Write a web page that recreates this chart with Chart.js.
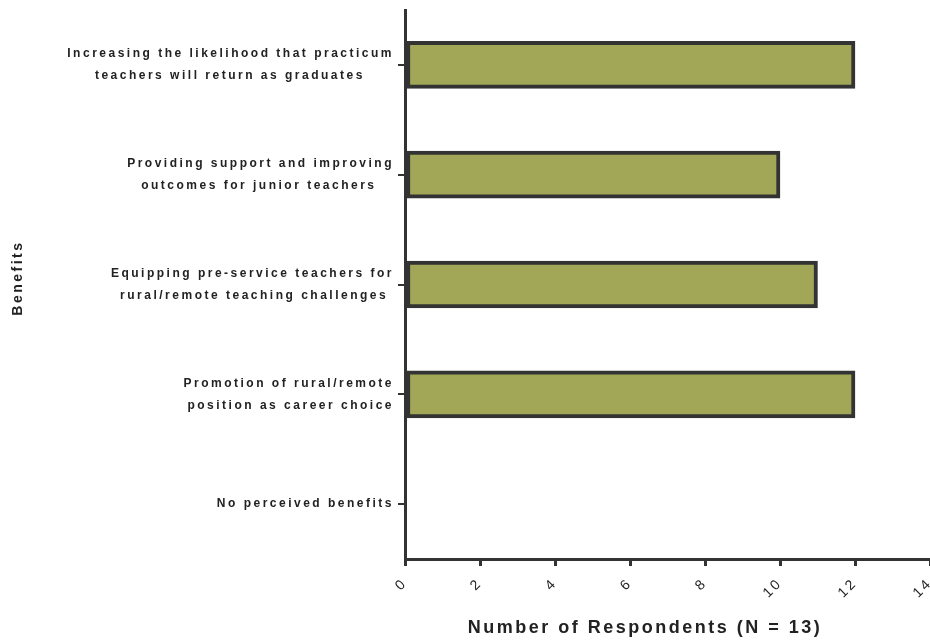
<!DOCTYPE html>
<html>
<head>
<meta charset="utf-8">
<script src="https://cdn.jsdelivr.net/npm/chart.js@4"></script>
<style>
  html, body { margin: 0; padding: 0; background: #fff; }
  #wrap { width: 930px; height: 641px; }
</style>
</head>
<body>
<div id="wrap"><canvas id="grafico"></canvas></div>
<script>
// Beneficios percibidos (barras horizontales)
const categorias = [
  ['Increasing the likelihood that practicum', 'teachers will return as graduates'],
  ['Providing support and improving', 'outcomes for junior teachers'],
  ['Equipping pre-service teachers for', 'rural/remote teaching challenges'],
  ['Promotion of rural/remote', 'position as career choice'],
  ['No perceived benefits']
];
const respuestas = [12, 10, 11, 12, 0];
const tituloX = 'Number of Respondents (N = 13)';
const tituloY = 'Benefits';

const fuente = 'Liberation Sans, Arial, sans-serif';
const espacio = '2.5px';

// espaciado de letras como en el grafico original
const espaciado = {
  id: 'espaciado',
  beforeLayout: (chart) => { chart.ctx.letterSpacing = espacio; },
  beforeDraw: (chart) => { chart.ctx.letterSpacing = espacio; }
};

// centra las lineas de cada etiqueta agregando espacios al final (texto alineado a la derecha)
const medidor = document.createElement('canvas').getContext('2d');
medidor.font = 'bold 12px ' + fuente;
medidor.letterSpacing = espacio;
const centrarLineas = (lineas) => {
  if (!Array.isArray(lineas)) return lineas;
  const anchos = lineas.map(l => medidor.measureText(l).width);
  const maximo = Math.max(...anchos);
  const anchoEspacio = medidor.measureText(' ').width;
  return lineas.map((l, i) => l + ' '.repeat(Math.round((maximo - anchos[i]) / 2 / anchoEspacio)));
};

const ctx = document.getElementById('grafico');
new Chart(ctx, {
  type: 'bar',
  data: {
    labels: categorias,
    datasets: [{
      data: respuestas,
      backgroundColor: '#a1a756',
      borderColor: '#333333',
      borderWidth: 4,
      borderSkipped: false,
      barThickness: 47
    }]
  },
  options: {
    indexAxis: 'y',
    responsive: true,
    maintainAspectRatio: false,
    animation: false,
    layout: { padding: { top: 10, right: 0, bottom: 0, left: 0 } },
    plugins: {
      legend: { display: false },
      tooltip: { enabled: false }
    },
    scales: {
      x: {
        min: 0,
        max: 14,
        afterFit: (s) => { s.height = 82; s.paddingRight = 0; },
        grid: { display: true, drawOnChartArea: false, drawTicks: true, tickLength: 7, color: '#333', lineWidth: 3 },
        border: { display: true, width: 3, color: '#333' },
        ticks: {
          stepSize: 2,
          minRotation: 45,
          maxRotation: 45,
          padding: 9,
          color: '#222',
          font: { family: fuente, size: 14 }
        },
        title: {
          display: true,
          text: tituloX + '      ',
          color: '#222',
          padding: { top: 2, bottom: 2 },
          font: { family: fuente, size: 18, weight: 'bold' }
        }
      },
      y: {
        afterFit: (s) => { s.width = 405; s.paddingTop = 0; s.paddingBottom = 0; },
        grid: { display: true, offset: false, drawOnChartArea: false, drawTicks: true, tickLength: 7, color: '#333', lineWidth: 2 },
        border: { display: true, width: 3, color: '#333' },
        ticks: {
          padding: 4,
          color: '#222',
          font: { family: fuente, size: 12, weight: 'bold', lineHeight: '22px' },
          callback: function (valor) { return centrarLineas(this.getLabelForValue(valor)); }
        },
        title: {
          display: true,
          text: '  ' + tituloY,
          color: '#222',
          padding: { top: 10, bottom: 0 },
          font: { family: fuente, size: 14, weight: 'bold' }
        }
      }
    }
  },
  plugins: [espaciado]
});
</script>
</body>
</html>
